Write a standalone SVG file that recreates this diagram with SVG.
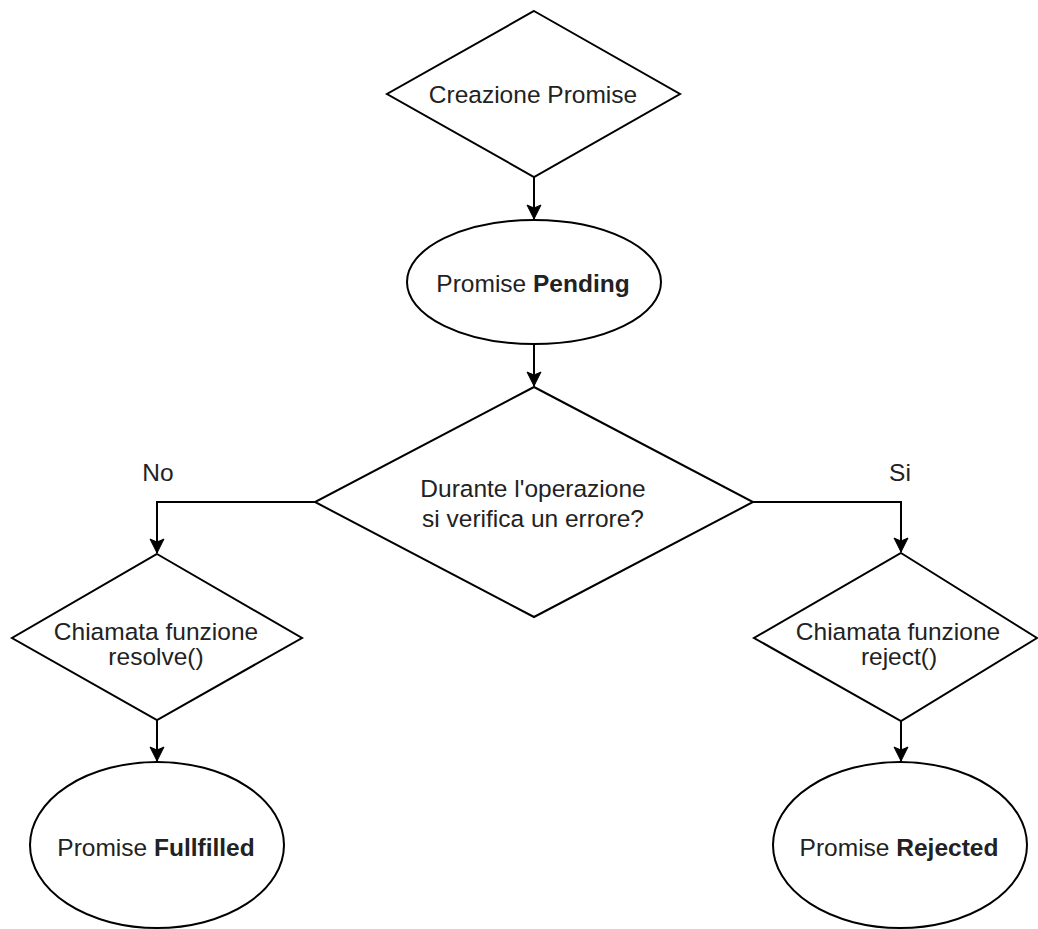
<svg xmlns="http://www.w3.org/2000/svg" width="1038" height="929" viewBox="0 0 1038 929">
<defs>
<style>
.shape{fill:#ffffff;stroke:#000000;stroke-width:2}
.conn{fill:none;stroke:#000000;stroke-width:2}
text{font-family:"Liberation Sans",Arial,Helvetica,sans-serif;font-size:24.5px;fill:#222222;text-anchor:middle}
.b{font-weight:bold}
</style>
<marker id="arrow" viewBox="0 0 16 16" markerWidth="16" markerHeight="16" refX="15" refY="8" orient="auto" markerUnits="userSpaceOnUse">
<path d="M1,1 L15,8 L1,15 L4,8 Z" fill="#000000" stroke="#000000" stroke-width="1"/>
</marker>
</defs>
<rect width="1038" height="929" fill="#ffffff"/>
<g id="connectors">
<path class="conn" d="M534,177 L534,219" marker-end="url(#arrow)"/>
<path class="conn" d="M534,344 L534,386" marker-end="url(#arrow)"/>
<path class="conn" d="M315,502 L157,502 L157,553" marker-end="url(#arrow)"/>
<path class="conn" d="M753,502 L901,502 L901,552" marker-end="url(#arrow)"/>
<path class="conn" d="M157,720 L157,761" marker-end="url(#arrow)"/>
<path class="conn" d="M901,721 L901,761" marker-end="url(#arrow)"/>
</g>
<g id="node-creazione">
<polygon class="shape" points="534,11 680,94 534,177 387,94"/>
<text x="533" y="103">Creazione Promise</text>
</g>
<g id="node-pending">
<ellipse class="shape" cx="534" cy="282" rx="127" ry="62"/>
<text x="533" y="292">Promise <tspan class="b">Pending</tspan></text>
</g>
<g id="node-errore">
<polygon class="shape" points="534,387 753,502 534,617 315,502"/>
<text x="533" y="497">Durante l'operazione</text>
<text x="533" y="527">si verifica un errore?</text>
</g>
<g id="label-no">
<text x="158" y="481">No</text>
</g>
<g id="label-si">
<text x="900" y="481">Si</text>
</g>
<g id="node-resolve">
<polygon class="shape" points="157,554 302,638 157,720 12,638"/>
<text x="156" y="640">Chiamata funzione</text>
<text x="156" y="665">resolve()</text>
</g>
<g id="node-reject">
<polygon class="shape" points="901,553 1037,638 901,721 754,638"/>
<text x="898" y="640">Chiamata funzione</text>
<text x="899" y="665">reject()</text>
</g>
<g id="node-fullfilled">
<ellipse class="shape" cx="157" cy="845" rx="127" ry="83"/>
<text x="156" y="856">Promise <tspan class="b">Fullfilled</tspan></text>
</g>
<g id="node-rejected">
<ellipse class="shape" cx="900" cy="845" rx="127" ry="83"/>
<text x="899" y="856">Promise <tspan class="b">Rejected</tspan></text>
</g>
</svg>
